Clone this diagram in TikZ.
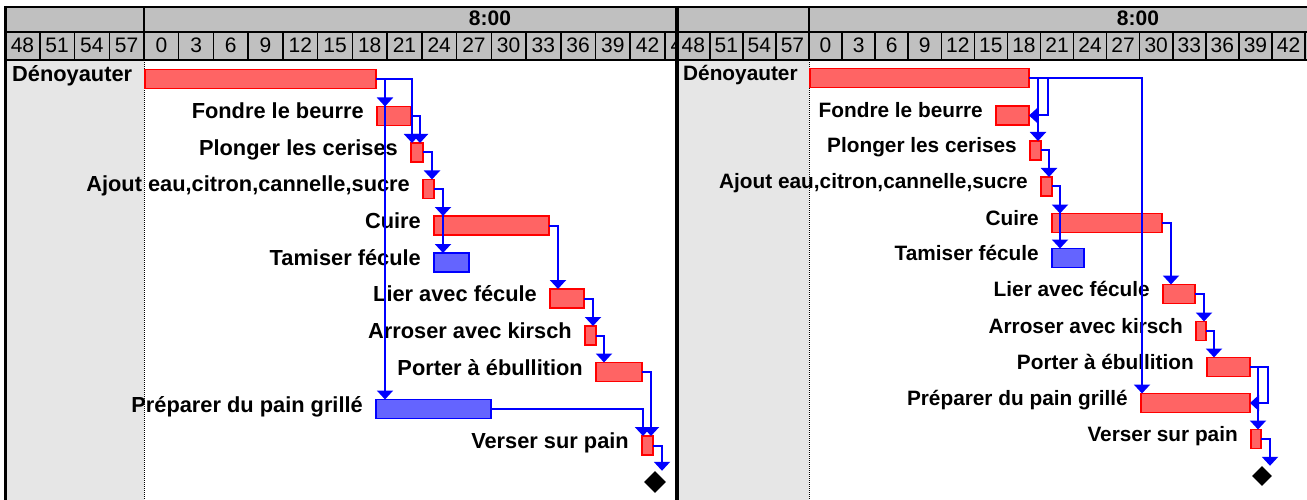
\documentclass[tikz,border=0pt]{standalone}
\usepackage{fontspec}
\setmainfont{Liberation Sans}
\usetikzlibrary{arrows.meta,shapes.geometric}
\definecolor{hdr}{RGB}{192,192,192}
\definecolor{dotgray}{RGB}{230,230,230}
\definecolor{barred}{RGB}{255,100,100}
\definecolor{barblue}{RGB}{100,100,255}
\definecolor{lnk}{RGB}{0,0,255}
\begin{document}
\begin{tikzpicture}[x=1pt,y=-1pt,
  redbar/.style={rectangle, draw=red, fill=barred, line width=1.5pt, inner sep=0pt, outer sep=0pt, minimum height=19pt, anchor=west},
  bluebar/.style={redbar, draw=blue, fill=barblue},
  lblL/.style={font=\fontsize{21.8}{24}\selectfont\bfseries, inner sep=0pt, anchor=base east},
  lblR/.style={font=\fontsize{20.8}{23}\selectfont\bfseries, inner sep=0pt, anchor=base east},
  link/.style={draw=lnk, line width=2pt, -{Triangle[width=16pt,length=9pt]}},
  ms/.style={diamond, fill=black, inner sep=0pt, minimum width=#1, minimum height=#1},
  cellline/.style={draw=black, line width=1.5pt},
  ticklbl/.style={font=\fontsize{21}{23}\selectfont, inner sep=0pt},
  hourlbl/.style={font=\fontsize{21}{23}\selectfont\bfseries, inner sep=0pt},
  frame/.style={draw=black}
]
% canvas
\fill[white] (0,0) rectangle (1307,500);
\useasboundingbox (0,0) rectangle (1307,500);

% ---------- backgrounds ----------
\fill[hdr] (7,7) rectangle (676,60);
\fill[hdr] (679,7) rectangle (1307,60);
\fill[dotgray] (7,60) rectangle (144,500);
\fill[dotgray] (679,60) rectangle (809,500);

% ---------- left header ticks ----------
\begin{scope}
  \clip (7,0) rectangle (675,500);
  \foreach \lab [count=\k from -4] in {48,51,54,57,0,3,6,9,12,15,18,21,24,27,30,33,36,39,42,45} {
    \draw[cellline] ({144+34.73*\k},32) -- ({144+34.73*\k},60);
    \node[ticklbl] (tl\k) at ({144+34.73*\k+17.36},45.5) {\lab};
  }
\end{scope}
\node[hourlbl] (hourL) at (490,18.5) {8:00};

% ---------- right header ticks ----------
\begin{scope}
  \clip (679,0) rectangle (1307,500);
  \foreach \lab [count=\k from -4] in {48,51,54,57,0,3,6,9,12,15,18,21,24,27,30,33,36,39,42} {
    \draw[cellline] ({809+33.07*\k},32) -- ({809+33.07*\k},60);
    \node[ticklbl] (tr\k) at ({809+33.07*\k+16.53},45.5) {\lab};
  }
  \draw[cellline] ({809+33.07*15},32) -- ({809+33.07*15},60);
\end{scope}
\node[hourlbl] (hourR) at (1138,18.5) {8:00};

% ---------- frame lines ----------
\draw[frame, line width=1.5pt] (7,32) -- (1307,32);
\draw[frame, line width=2.5pt] (7,60) -- (1307,60);
\draw[frame, line width=2pt] (144,7) -- (144,60);
\draw[frame, line width=2pt] (809,7) -- (809,60);
\draw[frame, line width=1pt, dash pattern=on 1pt off 1pt] (144,60) -- (144,500);
\draw[frame, line width=1pt, dash pattern=on 1pt off 1pt] (809,60) -- (809,500);
\draw[frame, line width=2pt] (4,7) -- (1307,7);
\draw[frame, line width=3pt] (5.5,6) -- (5.5,500);
\draw[frame, line width=4pt] (677,6) -- (677,500);

% ================= LEFT PANEL =================
\node[redbar, minimum width=231pt] (d1) at (145,79) {};
\node[redbar, minimum width=34pt] (f1) at (377,116) {};
\node[redbar, minimum width=12pt] (p1) at (411,152.5) {};
\node[redbar, minimum width=11pt] (a1) at (423,189) {};
\node[redbar, minimum width=115pt] (c1) at (434,225.5) {};
\node[bluebar, minimum width=35pt] (t1) at (434,262.5) {};
\node[redbar, minimum width=34pt] (l1) at (550,298.5) {};
\node[redbar, minimum width=11pt] (ar1) at (585,335.5) {};
\node[redbar, minimum width=46pt] (po1) at (596,372) {};
\node[bluebar, minimum width=115pt] (pr1) at (376,409) {};
\node[redbar, minimum width=11pt] (v1) at (642,445.5) {};
\node[ms=22pt] (m1) at (655,482) {};

\node[lblL, anchor=base west] (ld1) at (12,82) {Dénoyauter};
\node[lblL] (lf1) at (364,119) {Fondre le beurre};
\node[lblL] (lp1) at (398,155.5) {Plonger les cerises};
\node[lblL] (la1) at (410,192) {Ajout eau,citron,cannelle,sucre};
\node[lblL] (lc1) at (421,228.5) {Cuire};
\node[lblL] (lt1) at (421,265.5) {Tamiser fécule};
\node[lblL] (ll1) at (537,301.5) {Lier avec fécule};
\node[lblL] (lar1) at (572,338.5) {Arroser avec kirsch};
\node[lblL] (lpo1) at (583,375) {Porter à ébullition};
\node[lblL] (lpr1) at (363,412) {Préparer du pain grillé};
\node[lblL] (lv1) at (629,448.5) {Verser sur pain};

\draw[link] (d1.east) -| ([xshift=1pt]p1.north west);
\draw[link] (d1.east) -| ([xshift=9pt]pr1.north west);
\draw[link] (d1.east) -| ([xshift=8pt]f1.north west);
\draw[link] (f1.east) -| ([xshift=9pt]p1.north west);
\draw[link] (p1.east) -| ([xshift=9pt]a1.north west);
\draw[link] (a1.east) -| ([xshift=9pt]t1.north west);
\draw[link] (a1.east) -| ([xshift=9pt]c1.north west);
\draw[link] (c1.east) -| ([xshift=8pt]l1.north west);
\draw[link] (l1.east) -| ([xshift=8pt]ar1.north west);
\draw[link] (ar1.east) -| ([xshift=8pt]po1.north west);
\draw[link] (po1.east) -| ([xshift=9pt]v1.north west);
\draw[link] (pr1.east) -| ([xshift=1pt]v1.north west);
\draw[link] (v1.east) -| ([xshift=7pt]m1.north);

% ================= RIGHT PANEL =================
\node[redbar, minimum width=219pt] (d2) at (810,78) {};
\node[redbar, minimum width=33pt] (f2) at (996,115.5) {};
\node[redbar, minimum width=11pt] (p2) at (1030,150.5) {};
\node[redbar, minimum width=11pt] (a2) at (1041,186.5) {};
\node[redbar, minimum width=110pt] (c2) at (1052,223) {};
\node[bluebar, minimum width=32pt] (t2) at (1052,258) {};
\node[redbar, minimum width=32pt] (l2) at (1163,294) {};
\node[redbar, minimum width=10pt] (ar2) at (1196,331) {};
\node[redbar, minimum width=43pt] (po2) at (1207,367) {};
\node[redbar, minimum width=109pt] (pr2) at (1141,403) {};
\node[redbar, minimum width=10pt] (v2) at (1251,439) {};
\node[ms=20pt] (m2) at (1262,476) {};

\node[lblR, anchor=base west] (ld2) at (683,80.5) {Dénoyauter};
\node[lblR] (lf2) at (983,118) {Fondre le beurre};
\node[lblR] (lp2) at (1017,153) {Plonger les cerises};
\node[lblR] (la2) at (1028,189) {Ajout eau,citron,cannelle,sucre};
\node[lblR] (lc2) at (1039,225.5) {Cuire};
\node[lblR] (lt2) at (1039,260.5) {Tamiser fécule};
\node[lblR] (ll2) at (1150,296.5) {Lier avec fécule};
\node[lblR] (lar2) at (1183,333.5) {Arroser avec kirsch};
\node[lblR] (lpo2) at (1194,369.5) {Porter à ébullition};
\node[lblR] (lpr2) at (1128,405.5) {Préparer du pain grillé};
\node[lblR] (lv2) at (1238,441.5) {Verser sur pain};

\draw[link] (d2.east) -| ([xshift=1pt]pr2.north west);
\draw[link] (d2.east) -| ([xshift=19pt]f2.east) -- (f2.east);
\draw[link] (d2.east) -| ([xshift=8pt]p2.north west);
\draw[link] (p2.east) -| ([xshift=8pt]a2.north west);
\draw[link] (a2.east) -| ([xshift=8pt]t2.north west);
\draw[link] (a2.east) -| ([xshift=8pt]c2.north west);
\draw[link] (c2.east) -| ([xshift=8pt]l2.north west);
\draw[link] (l2.east) -| ([xshift=8pt]ar2.north west);
\draw[link] (ar2.east) -| ([xshift=7pt]po2.north west);
\draw[link] (po2.east) -| ([xshift=18pt]pr2.east) -- (pr2.east);
\draw[link] (po2.east) -| ([xshift=7pt]v2.north west);
\draw[link] (v2.east) -| ([xshift=8pt]m2.north);
\end{tikzpicture}
\end{document}
